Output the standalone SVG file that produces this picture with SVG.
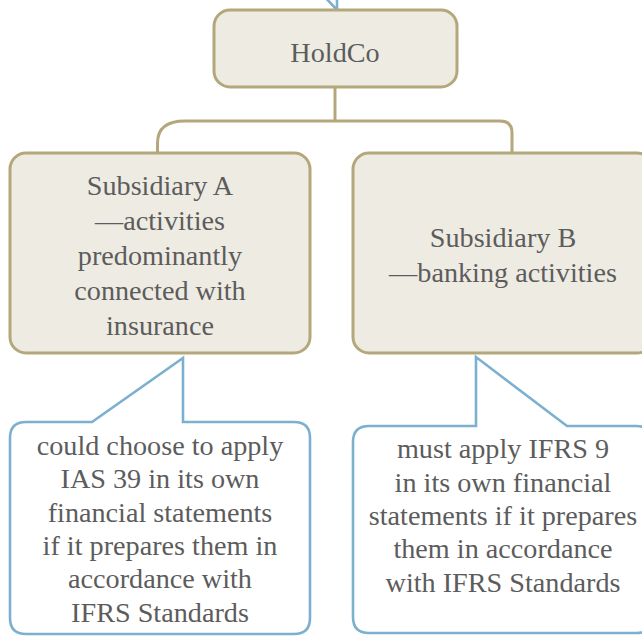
<svg xmlns="http://www.w3.org/2000/svg" width="642" height="636" viewBox="0 0 642 636">
<style>
.node{fill:#eeebe3;stroke:#b4a77b;stroke-width:3}
.conn{fill:none;stroke:#b4a77b;stroke-width:3}
.call{fill:#ffffff;stroke:#7cb0cf;stroke-width:2.6;stroke-linejoin:miter}
text{font-family:"Liberation Serif","DejaVu Serif",serif;font-size:28.2px;fill:#5c5c5c;text-anchor:middle}
</style>
<rect width="642" height="636" fill="#ffffff"/>
<g id="connectors">
<path class="conn" d="M335 87 L335 121"/>
<path class="conn" d="M157.5 153 L157.5 143 Q157.5 121 185 121 L500 121 Q512 121 512 133 L512 153"/>
</g>
<g id="callout-top">
<path class="call" d="M322 -6 L337 10 L337 -6"/>
</g>
<g id="holdco">
<rect class="node" x="214" y="10" width="243" height="77" rx="16"/>
<text x="335" y="62">HoldCo</text>
</g>
<g id="subsidiary-a">
<rect class="node" x="10" y="153" width="300" height="200" rx="16"/>
<text x="160" y="195">Subsidiary A</text>
<text x="160" y="230">—activities</text>
<text x="160" y="265">predominantly</text>
<text x="160" y="300">connected with</text>
<text x="160" y="335">insurance</text>
</g>
<g id="subsidiary-b">
<rect class="node" x="353" y="153" width="300" height="200" rx="16"/>
<text x="503" y="247">Subsidiary B</text>
<text x="503" y="282">—banking activities</text>
</g>
<g id="callout-a">
<path class="call" d="M26 422 L92 422 L183 358 L183 422 L294 422 Q310 422 310 438 L310 618 Q310 634 294 634 L26 634 Q10 634 10 618 L10 438 Q10 422 26 422 Z"/>
<text x="160" y="455">could choose to apply</text>
<text x="160" y="488">IAS 39 in its own</text>
<text x="160" y="522">financial statements</text>
<text x="160" y="555">if it prepares them in</text>
<text x="160" y="588">accordance with</text>
<text x="160" y="622">IFRS Standards</text>
</g>
<g id="callout-b">
<path class="call" d="M369 426 L476 426 L476 357 L567 426 L636 426 Q652 426 652 442 L652 617 Q652 633 636 633 L369 633 Q353 633 353 617 L353 442 Q353 426 369 426 Z"/>
<text x="503" y="458">must apply IFRS 9</text>
<text x="503" y="492">in its own financial</text>
<text x="503" y="525">statements if it prepares</text>
<text x="503" y="558">them in accordance</text>
<text x="503" y="592">with IFRS Standards</text>
</g>
</svg>
